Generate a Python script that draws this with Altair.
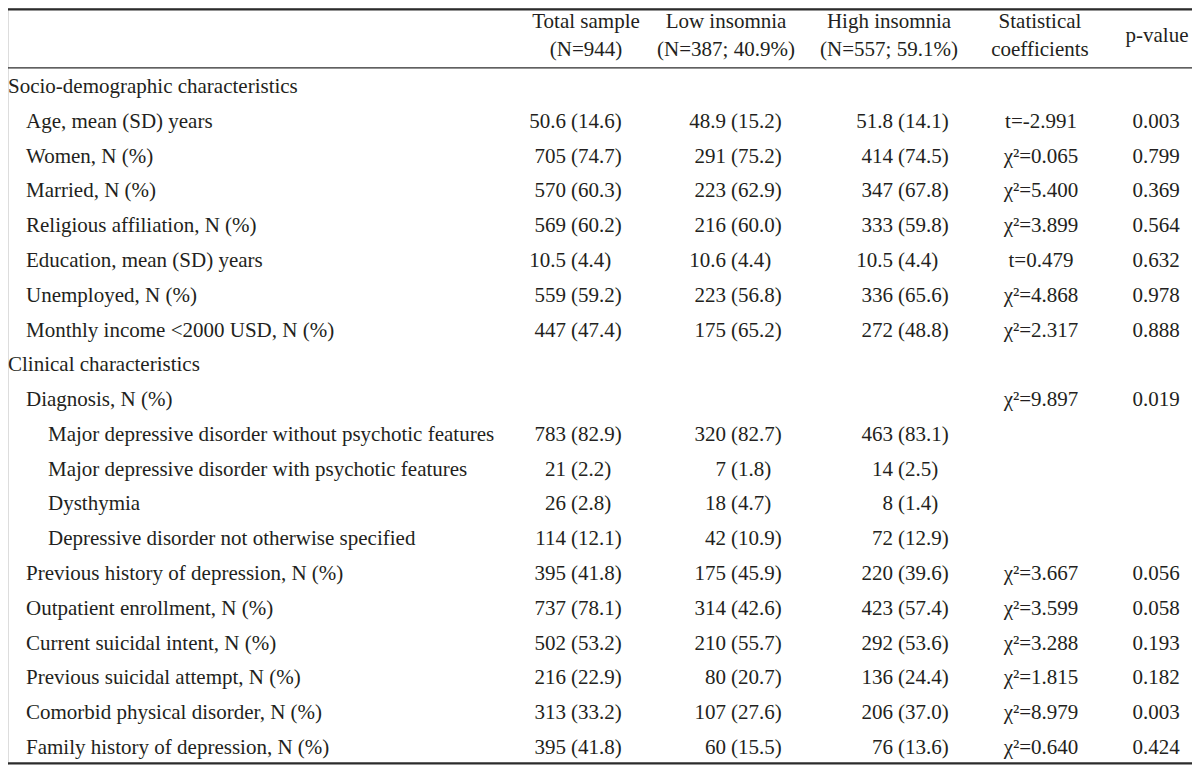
import altair as alt
import pandas as pd

# ---------------- data ----------------
row_labels = [
    "Socio-demographic characteristics",
    "Age, mean (SD) years",
    "Women, N (%)",
    "Married, N (%)",
    "Religious affiliation, N (%)",
    "Education, mean (SD) years",
    "Unemployed, N (%)",
    "Monthly income <2000 USD, N (%)",
    "Clinical characteristics",
    "Diagnosis, N (%)",
    "Major depressive disorder without psychotic features",
    "Major depressive disorder with psychotic features",
    "Dysthymia",
    "Depressive disorder not otherwise specified",
    "Previous history of depression, N (%)",
    "Outpatient enrollment, N (%)",
    "Current suicidal intent, N (%)",
    "Previous suicidal attempt, N (%)",
    "Comorbid physical disorder, N (%)",
    "Family history of depression, N (%)",
]
row_levels = [0, 1, 1, 1, 1, 1, 1, 1, 0, 1, 2, 2, 2, 2, 1, 1, 1, 1, 1, 1]

total_n = ["", "50.6", "705", "570", "569", "10.5", "559", "447", "", "",
           "783", "21", "26", "114", "395", "737", "502", "216", "313", "395"]
total_pct = ["", "(14.6)", "(74.7)", "(60.3)", "(60.2)", "(4.4)", "(59.2)", "(47.4)", "", "",
             "(82.9)", "(2.2)", "(2.8)", "(12.1)", "(41.8)", "(78.1)", "(53.2)", "(22.9)", "(33.2)", "(41.8)"]
low_n = ["", "48.9", "291", "223", "216", "10.6", "223", "175", "", "",
         "320", "7", "18", "42", "175", "314", "210", "80", "107", "60"]
low_pct = ["", "(15.2)", "(75.2)", "(62.9)", "(60.0)", "(4.4)", "(56.8)", "(65.2)", "", "",
           "(82.7)", "(1.8)", "(4.7)", "(10.9)", "(45.9)", "(42.6)", "(55.7)", "(20.7)", "(27.6)", "(15.5)"]
high_n = ["", "51.8", "414", "347", "333", "10.5", "336", "272", "", "",
          "463", "14", "8", "72", "220", "423", "292", "136", "206", "76"]
high_pct = ["", "(14.1)", "(74.5)", "(67.8)", "(59.8)", "(4.4)", "(65.6)", "(48.8)", "", "",
            "(83.1)", "(2.5)", "(1.4)", "(12.9)", "(39.6)", "(57.4)", "(53.6)", "(24.4)", "(37.0)", "(13.6)"]
stat_coef = ["", "t=-2.991", "χ²=0.065", "χ²=5.400", "χ²=3.899", "t=0.479", "χ²=4.868", "χ²=2.317", "",
             "χ²=9.897", "", "", "", "", "χ²=3.667", "χ²=3.599", "χ²=3.288", "χ²=1.815", "χ²=8.979", "χ²=0.640"]
p_values = ["", "0.003", "0.799", "0.369", "0.564", "0.632", "0.978", "0.888", "",
            "0.019", "", "", "", "", "0.056", "0.058", "0.193", "0.182", "0.003", "0.424"]

header_keys = ["h_total", "h_low", "h_high", "h_stat"]
header_line1 = ["Total sample", "Low insomnia", "High insomnia", "Statistical"]
header_line2 = ["(N=944)", "(N=387; 40.9%)", "(N=557; 59.1%)", "coefficients"]
header_single = "p-value"

# ---------------- layout ----------------
W, H = 1184, 757
col_anchor = {
    "lvl0": 0, "lvl1": 18, "lvl2": 40,
    "total": 560, "low": 720, "high": 887, "stat": 1033, "pval": 1148,
    "h_total": 578, "h_low": 718, "h_high": 881, "h_stat": 1032, "h_p": 1149,
}
# header / rule positions in row units
HDR_LINE1, HDR_LINE2, HDR_MID = -1.87, -1.06, -1.47
RULE_TOP, RULE_MID, RULE_BOTTOM = -2.23, -0.55, 19.44

xscale = alt.Scale(domain=[0, W], range=[0, W])
yscale = alt.Scale(domain=[-2.271, 19.488], range=[0, H])

FONT = "Liberation Serif"
FS = 21
TXT = "#231f20"

# ---------------- tables ----------------
body = pd.DataFrame({
    "row": list(range(len(row_labels))),
    "text": row_labels,
    "col": [f"lvl{l}" for l in row_levels],
})

def cells(key, values):
    return pd.DataFrame({"row": list(range(len(values))), "col": key, "text": values})

counts = pd.concat([cells("total", total_n), cells("low", low_n), cells("high", high_n)])
pcts = pd.concat([cells("total", total_pct), cells("low", low_pct), cells("high", high_pct)])
centered = pd.concat([cells("stat", stat_coef), cells("pval", p_values)])
counts = counts[counts.text != ""]
pcts = pcts[pcts.text != ""]
centered = centered[centered.text != ""]

hdr = pd.DataFrame({
    "row": [HDR_LINE1] * 4 + [HDR_LINE2] * 4 + [HDR_MID],
    "col": header_keys + header_keys + ["h_p"],
    "text": header_line1 + header_line2 + [header_single],
})

for df in (body, counts, pcts, centered, hdr):
    df["xpos"] = df["col"].map(col_anchor)

rules = pd.DataFrame({"row": [RULE_TOP, RULE_MID, RULE_BOTTOM], "kind": ["top", "mid", "bottom"]})

X_AX = dict(scale=xscale, axis=None)
Y_AX = dict(scale=yscale, axis=None)

def txt(df, align, dx=0):
    return alt.Chart(df).mark_text(
        font=FONT, fontSize=FS, color=TXT, align=align, baseline="middle", dx=dx
    ).encode(
        x=alt.X("xpos:Q", **X_AX), y=alt.Y("row:Q", **Y_AX), text="text:N"
    )

def rule(kind, width):
    return alt.Chart(rules[rules.kind == kind]).mark_rule(
        color="#2b2b2b", strokeWidth=width
    ).encode(
        x=alt.value(0), x2=alt.value(W), y=alt.Y("row:Q", **Y_AX)
    )

chart = alt.layer(
    rule("top", 2.2), rule("mid", 1.4), rule("bottom", 2.2),
    txt(body, "left"),
    txt(counts, "right", -2),
    txt(pcts, "left", 3),
    txt(centered, "center"),
    txt(hdr, "center"),
).properties(
    width=W, height=H, autosize=alt.AutoSizeParams(type="none"), padding=0
).configure_view(strokeWidth=0).configure(background="white")

chart.save("out.html", embed_options={"renderer": "svg", "actions": False})
